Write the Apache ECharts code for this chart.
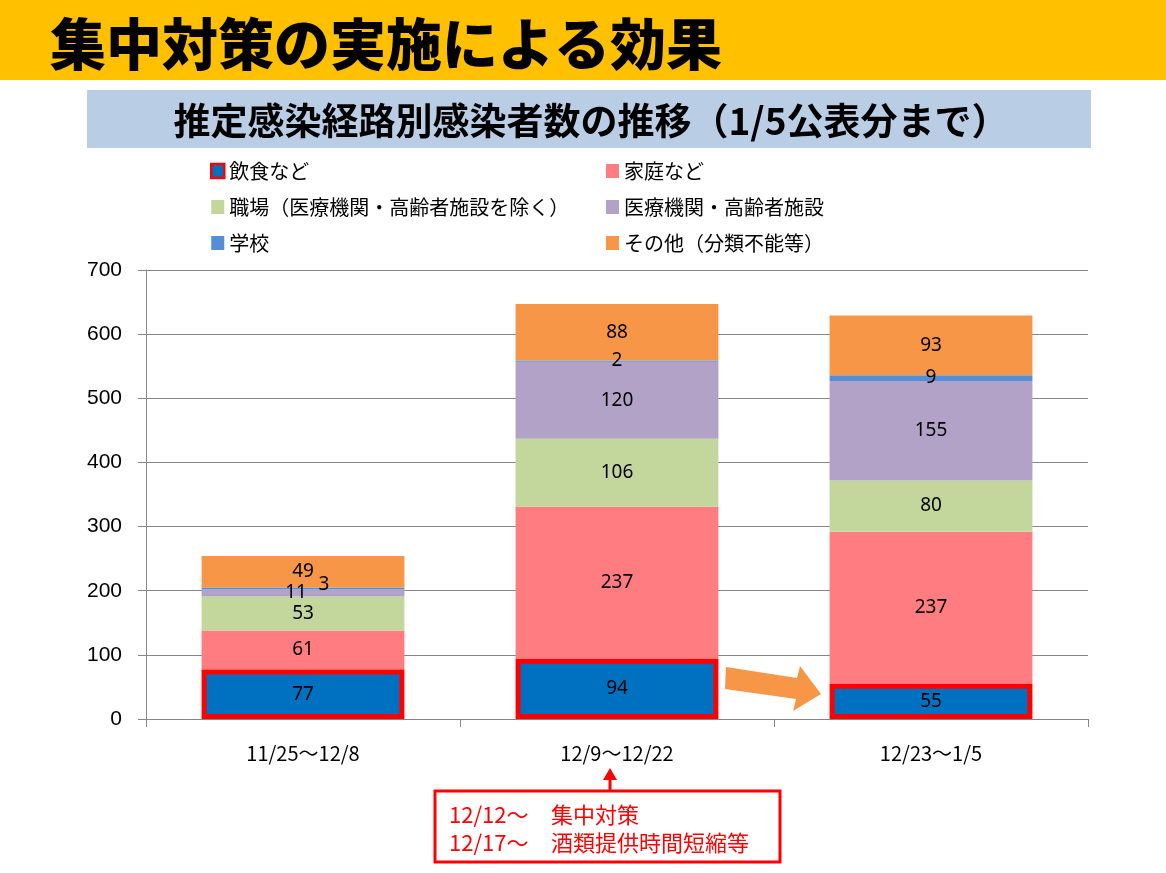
<!DOCTYPE html>
<html><head><meta charset="utf-8">
<script src="https://cdn.jsdelivr.net/npm/echarts@6/dist/echarts.min.js"></script>
<style>html,body{margin:0;padding:0;background:#fff;}#c{width:1166px;height:873px;}</style>
</head><body><div id="c"></div>
<script>
const categories = ['11/25～12/8', '12/9～12/22', '12/23～1/5'];
const seriesNames = ['飲食など', '家庭など', '職場（医療機関・高齢者施設を除く）', '医療機関・高齢者施設', '学校', 'その他（分類不能等）'];
const inshoku = [77, 94, 55];
const katei = [61, 237, 237];
const shokuba = [53, 106, 80];
const iryo = [11, 120, 155];
const gakko = [3, 2, 9];
const sonota = [49, 88, 93];
const yMin = 0, yMax = 700, yStep = 100;

const values = [inshoku, katei, shokuba, iryo, gakko, sonota];
const colors = ['#0070C0', '#FF7C80', '#C3D69B', '#B3A2C7', '#558ED5', '#F79646'];
const labelOffsets = {3: {0: [-7, 0]}, 4: {0: [21, -4]}};
const FONT = '"Noto Sans CJK JP", "Noto Sans", sans-serif';

const chart = echarts.init(document.getElementById('c'), null, {renderer: 'canvas'});

const series = values.map((arr, si) => ({
  name: seriesNames[si],
  type: 'bar',
  stack: 'total',
  barWidth: '64.6%',
  z: si === 0 ? 3 : 2,
  itemStyle: si === 0 ? {color: colors[0], borderColor: '#FF0000', borderWidth: 5} : {color: colors[si]},
  label: {show: true, position: 'inside', color: '#000', fontSize: 19, fontFamily: '"Noto Sans", sans-serif'},
  emphasis: {disabled: true},
  data: arr.map((v, i) => {
    const o = {value: v};
    if (labelOffsets[si] && labelOffsets[si][i]) o.label = {offset: labelOffsets[si][i]};
    return o;
  })
}));

const legendText = {fontSize: 20, color: '#000', fontFamily: FONT, lineHeight: 22};
const option = {
  animation: false,
  backgroundColor: '#fff',
  grid: {left: 146, right: 78, top: 270, bottom: 154, containLabel: false},
  legend: [
    {orient: 'vertical', left: 205, top: 155, itemWidth: 13, itemHeight: 14, itemGap: 14, selectedMode: false,
     icon: 'rect', textStyle: legendText,
     data: [{name: seriesNames[0], itemStyle: {borderWidth: 2.5, borderColor: '#FF0000'}}, {name: seriesNames[2]}, {name: seriesNames[4]}]},
    {orient: 'vertical', left: 601, top: 155, itemWidth: 13, itemHeight: 14, itemGap: 14, selectedMode: false,
     icon: 'rect', textStyle: legendText,
     data: [{name: seriesNames[1]}, {name: seriesNames[3]}, {name: seriesNames[5]}]}
  ],
  xAxis: {
    type: 'category', data: categories,
    axisLine: {lineStyle: {color: '#868686', width: 1}},
    axisTick: {show: true, length: 8, lineStyle: {color: '#868686'}},
    axisLabel: {color: '#000', fontSize: 20, margin: 24, fontFamily: FONT}
  },
  yAxis: {
    type: 'value', min: yMin, max: yMax, interval: yStep,
    axisLine: {show: true, lineStyle: {color: '#868686', width: 1}},
    axisTick: {show: true, length: 8, lineStyle: {color: '#868686'}},
    axisLabel: {color: '#000', fontSize: 21, margin: 24, fontFamily: '"Liberation Sans", Arial, sans-serif'},
    splitLine: {show: true, lineStyle: {color: '#868686', width: 1}}
  },
  series: series,
  graphic: [
    {type: 'rect', left: 0, top: 0, shape: {width: 1166, height: 80}, style: {fill: '#FFC000'}, z: 0},
    {type: 'text', left: 50, top: 16, style: {text: '集中対策の実施による効果', fill: '#000', font: '900 56px ' + FONT}},
    {type: 'rect', left: 87, top: 90, shape: {width: 1004, height: 58}, style: {fill: '#B9CDE5'}, z: 0},
    {type: 'text', x: 591, y: 121, style: {text: '推定感染経路別感染者数の推移（1/5公表分まで）', font: 'bold 37px ' + FONT, fill: '#000', align: 'center', verticalAlign: 'middle'}},
    {type: 'polygon', shape: {points: [[726, 667], [797, 678], [800, 666], [821, 694], [793, 711], [796, 699], [725, 689]]}, style: {fill: '#F79646'}, z: 10},
    {type: 'rect', shape: {x: 435, y: 791, width: 345, height: 71}, style: {fill: '#fff', stroke: '#FF0000', lineWidth: 3}, z: 10},
    {type: 'line', shape: {x1: 610, y1: 790, x2: 610, y2: 774}, style: {stroke: '#FF0000', lineWidth: 3}, z: 10},
    {type: 'polygon', shape: {points: [[603, 780], [610, 768], [617, 780]]}, style: {fill: '#FF0000'}, z: 10},
    {type: 'text', x: 449, y: 815, style: {text: '12/12～', font: '22px ' + FONT, fill: '#FF0000', verticalAlign: 'middle'}, z: 11},
    {type: 'text', x: 551, y: 815, style: {text: '集中対策', font: '22px ' + FONT, fill: '#FF0000', verticalAlign: 'middle'}, z: 11},
    {type: 'text', x: 449, y: 843, style: {text: '12/17～', font: '22px ' + FONT, fill: '#FF0000', verticalAlign: 'middle'}, z: 11},
    {type: 'text', x: 551, y: 843, style: {text: '酒類提供時間短縮等', font: '22px ' + FONT, fill: '#FF0000', verticalAlign: 'middle'}, z: 11}
  ]
};
chart.setOption(option);
</script>
</body></html>
